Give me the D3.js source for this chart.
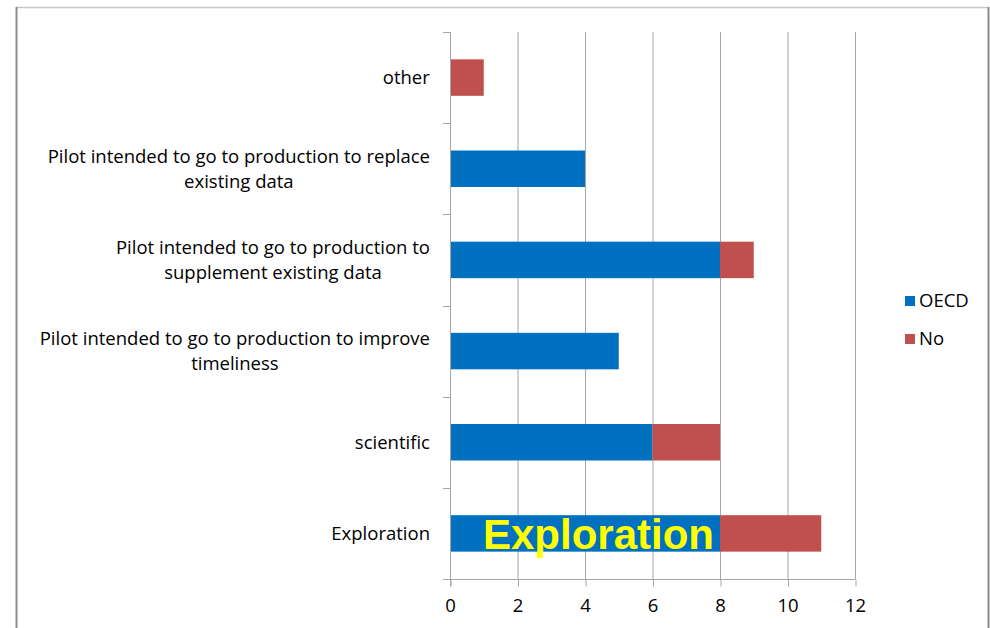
<!DOCTYPE html>
<html>
<head>
<meta charset="utf-8">
<script src="https://cdn.jsdelivr.net/npm/d3@7"></script>
<style>
  body { margin: 0; background: #fff; }
  svg text { font-family: "Open Sans", Lato, sans-serif; }
</style>
</head>
<body>
<div id="chart"></div>
<script>
// categories, top to bottom
const categories = [
  "other",
  "Pilot intended to go to production to replace existing data",
  "Pilot intended to go to production to supplement existing data",
  "Pilot intended to go to production to improve timeliness",
  "scientific",
  "Exploration"
];
const labelLines = [
  ["other"],
  ["Pilot intended to go to production to replace", "existing data"],
  ["Pilot intended to go to production to", "supplement existing data"],
  ["Pilot intended to go to production to improve", "timeliness"],
  ["scientific"],
  ["Exploration"]
];
const oecdValues = [0, 4, 8, 5, 6, 8];
const noValues   = [1, 0, 1, 0, 2, 3];
const seriesNames = ["OECD", "No"];
const xTicks = [0, 2, 4, 6, 8, 10, 12];

const width = 990, height = 628;
const margins = { top: 32, right: 135, bottom: 49, left: 450 };
const colors = { OECD: "#0070c0", No: "#c0504d" };
const fontSize = 18.5;

const svg = d3.select("#chart").append("svg")
  .attr("width", width).attr("height", height);

// outer frame
svg.append("line").attr("x1", 16).attr("x2", 988).attr("y1", 7.5).attr("y2", 7.5)
  .attr("stroke", "#c8c8c8").attr("stroke-width", 1.5);
svg.append("line").attr("x1", 16.5).attr("x2", 16.5).attr("y1", 7).attr("y2", height)
  .attr("stroke", "#8c8c8c").attr("stroke-width", 2);
svg.append("line").attr("x1", 988.5).attr("x2", 988.5).attr("y1", 7).attr("y2", height)
  .attr("stroke", "#8c8c8c").attr("stroke-width", 2);

const innerW = width - margins.left - margins.right;
const innerH = height - margins.top - margins.bottom;

const x = d3.scaleLinear().domain([0, 12]).range([0, innerW]);
const y = d3.scaleBand().domain(categories).range([0, innerH]).paddingInner(0.6).paddingOuter(0.3);
const yBand = d3.scaleBand().domain(categories).range([0, innerH]);

const g = svg.append("g").attr("transform", "translate(" + margins.left + "," + margins.top + ")");

// vertical gridlines
g.append("g").selectAll("line").data(xTicks.slice(1)).enter().append("line")
  .attr("x1", d => x(d) + 0.5).attr("x2", d => x(d) + 0.5)
  .attr("y1", 0).attr("y2", innerH)
  .attr("stroke", "#a6a6a6").attr("stroke-width", 1);

// stacked data
const table = categories.map((c, i) => ({ cat: c, OECD: oecdValues[i], No: noValues[i] }));
const stacked = d3.stack().keys(seriesNames)(table);

g.append("g").selectAll("g").data(stacked).enter().append("g")
  .attr("fill", d => colors[d.key])
  .selectAll("rect").data(d => d).enter().append("rect")
  .attr("x", d => x(d[0]))
  .attr("width", d => x(d[1]) - x(d[0]))
  .attr("y", d => y(d.data.cat))
  .attr("height", y.bandwidth());

// y axis line and ticks
g.append("line").attr("x1", 0.5).attr("x2", 0.5).attr("y1", 0).attr("y2", innerH + 7)
  .attr("stroke", "#a6a6a6");
const yTickPos = categories.map(c => yBand(c)).concat([innerH]);
g.append("g").selectAll("line").data(yTickPos).enter().append("line")
  .attr("x1", -7).attr("x2", 0).attr("y1", d => Math.round(d) + 0.5).attr("y2", d => Math.round(d) + 0.5)
  .attr("stroke", "#a6a6a6");

// x axis
const xAxis = g.append("g").attr("transform", "translate(0," + (innerH + 0.5) + ")")
  .call(d3.axisBottom(x).tickValues(xTicks).tickSize(7).tickSizeOuter(0).tickPadding(12));
xAxis.select(".domain").attr("stroke", "#a6a6a6").attr("d", "M-7,0H" + (innerW + 0.5));
xAxis.selectAll(".tick line").attr("stroke", "#a6a6a6").attr("transform", "translate(0.5,0)");
xAxis.selectAll(".tick text").attr("font-size", fontSize).attr("fill", "#000")
  .style("font-family", "'Open Sans', Lato, sans-serif");

// category labels
const lineH = 25;
const labelG = g.append("g");
categories.forEach((c, i) => {
  const lines = labelLines[i];
  const cy = yBand(c) + yBand.bandwidth() / 2;
  const t = labelG.append("text")
    .attr("font-size", fontSize).attr("fill", "#000")
    .attr("text-anchor", "middle");
  lines.forEach((ln, j) => {
    t.append("tspan").attr("x", 0)
      .attr("y", cy + (j - (lines.length - 1) / 2) * lineH)
      .attr("dy", "0.35em").text(ln);
  });
  // right-align the block at x = -20, keep lines centered within it
  const w = t.node().getBBox().width;
  t.selectAll("tspan").attr("x", -20 - w / 2);
});

// legend
const legend = svg.append("g").attr("transform", "translate(905,301)");
seriesNames.forEach((s, i) => {
  const row = legend.append("g").attr("transform", "translate(0," + i * 38 + ")");
  row.append("rect").attr("x", 0).attr("y", -5).attr("width", 10).attr("height", 10).attr("fill", colors[s]);
  row.append("text").attr("x", 14).attr("y", 0).attr("dy", "0.35em")
    .attr("font-size", fontSize).attr("fill", "#000").text(s);
});

// annotation on the Exploration bar
g.append("text")
  .attr("x", x(4.4)).attr("y", y("Exploration") + y.bandwidth() / 2)
  .attr("dy", "0.36em").attr("text-anchor", "middle")
  .style("font-family", "'Liberation Sans', Arial, sans-serif")
  .attr("font-weight", "bold").attr("font-size", 42)
  .attr("fill", "#ffff00")
  .text("Exploration");
</script>
</body>
</html>
